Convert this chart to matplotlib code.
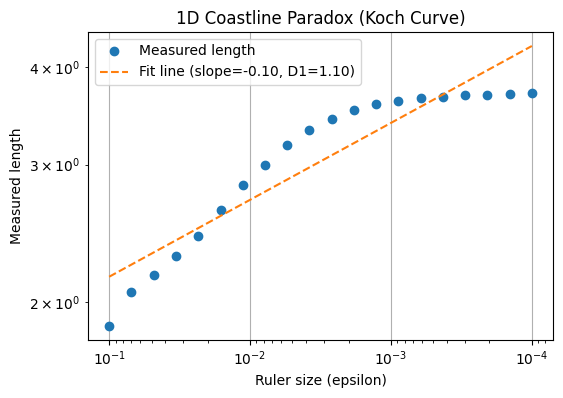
import numpy as np
import matplotlib
matplotlib.use("Agg")
import matplotlib.pyplot as plt

# ruler sizes (log-spaced, 1e-1 .. 1e-4) and measured Koch curve lengths
epsilons = [1.0e-1, 6.95e-2, 4.83e-2, 3.36e-2, 2.34e-2, 1.62e-2, 1.13e-2, 7.85e-3,
            5.46e-3, 3.79e-3, 2.64e-3, 1.83e-3, 1.27e-3, 8.86e-4, 6.16e-4, 4.28e-4,
            2.98e-4, 2.07e-4, 1.44e-4, 1.0e-4]
lengths = [1.863, 2.058, 2.164, 2.289, 2.428, 2.621, 2.822, 2.994, 3.177, 3.323,
           3.430, 3.523, 3.586, 3.618, 3.650, 3.661, 3.682, 3.688, 3.692, 3.703]

eps = np.array(epsilons)
L = np.array(lengths)

# power-law fit in log space
slope, intercept = np.polyfit(np.log(eps), np.log(L), 1)
D1 = 1 - slope
fit = np.exp(intercept) * eps ** slope

fig, ax = plt.subplots(figsize=(5.63, 3.98), dpi=100)
fig.subplots_adjust(left=0.1563, right=0.9822, top=0.9196, bottom=0.1457)

ax.loglog(eps, L, "o", label="Measured length")
ax.loglog(eps, fit, "--", label=f"Fit line (slope={slope:.2f}, D1={D1:.2f})")
ax.invert_xaxis()
ax.set_xlabel("Ruler size (epsilon)")
ax.set_ylabel("Measured length")
ax.set_title("1D Coastline Paradox (Koch Curve)")
ax.legend(loc="upper left")
ax.grid(True)

fig.savefig("out.png", dpi=100)
